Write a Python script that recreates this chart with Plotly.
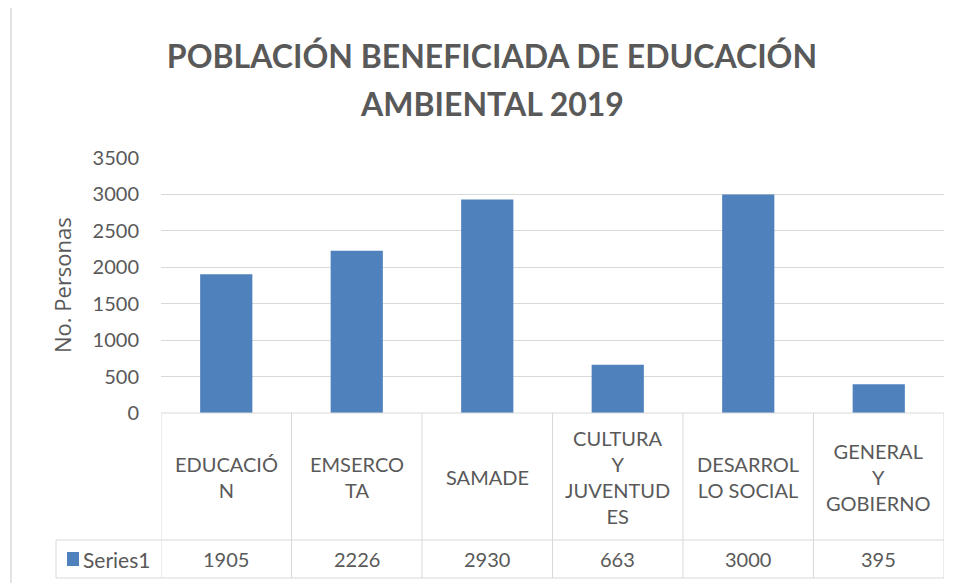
import plotly.graph_objects as go

categories = ["EDUCACIÓN", "EMSERCOTA", "SAMADE", "CULTURA Y JUVENTUDES", "DESARROLLO SOCIAL", "GENERAL Y GOBIERNO"]
category_labels = ["EDUCACIÓ<br>N", "EMSERCO<br>TA", "SAMADE", "CULTURA<br>Y<br>JUVENTUD<br>ES",
                   "DESARROL<br>LO SOCIAL", "GENERAL<br>Y<br>GOBIERNO"]
values = [1905, 2226, 2930, 663, 3000, 395]
series_name = "Series1"
y_ticks = [0, 500, 1000, 1500, 2000, 2500, 3000, 3500]
title_lines = ["POBLACIÓN BENEFICIADA DE EDUCACIÓN", "AMBIENTAL 2019"]
y_title = "No. Personas"

W, H = 957, 583
L, R, T, B = 161, 13, 158, 170
plot_h = H - T - B
plot_w = W - L - R

def py(pix):  # pixel y -> paper y
    return (H - B - pix) / plot_h

def px(pix):  # pixel x -> paper x
    return (pix - L) / plot_w

GRID = "#d9d9d9"
TXT = "#595959"
BLUE = "#4f81bd"
FS = 20

fig = go.Figure()
fig.add_trace(go.Bar(x=list(range(len(values))), y=values, marker=dict(color=BLUE, line=dict(width=0)),
                     name=series_name, showlegend=False, width=0.4))

shapes = []
n = len(categories)
shapes.append(dict(type="line", xref="x", yref="paper", x0=-0.5, x1=n - 0.5, y0=0, y1=0,
                   line=dict(color=GRID, width=1)))
for yp in (540, 578):
    shapes.append(dict(type="line", xref="paper", yref="paper", x0=px(56), x1=1, y0=py(yp), y1=py(yp),
                       line=dict(color=GRID, width=1)))
for k in range(n + 1):
    shapes.append(dict(type="line", xref="x", yref="paper", x0=k - 0.5, x1=k - 0.5, y0=0, y1=py(578),
                       line=dict(color=GRID, width=1)))
shapes.append(dict(type="line", xref="paper", yref="paper", x0=px(56), x1=px(56), y0=py(540), y1=py(578),
                   line=dict(color=GRID, width=1)))
shapes.append(dict(type="line", xref="paper", yref="paper", x0=px(11), x1=px(11), y0=py(8), y1=py(590),
                   line=dict(color=GRID, width=1.5)))
shapes.append(dict(type="rect", xref="paper", yref="paper", x0=px(67), x1=px(79), y0=py(552), y1=py(566),
                   fillcolor=BLUE, line=dict(width=0)))

annotations = []
for i, lab in enumerate(category_labels):
    annotations.append(dict(x=i, y=py(477), xref="x", yref="paper", text=lab, showarrow=False,
                            font=dict(family="Lato", size=FS, color=TXT), align="center",
                            xanchor="center", yanchor="middle"))
for i, v in enumerate(values):
    annotations.append(dict(x=i, y=py(559), xref="x", yref="paper", text=str(v), showarrow=False,
                            font=dict(family="Lato", size=FS, color=TXT), xanchor="center", yanchor="middle"))
annotations.append(dict(x=px(81), y=py(559), xref="paper", yref="paper", text=series_name, showarrow=False,
                        font=dict(family="Lato", size=21, color=TXT), xanchor="left", yanchor="middle"))
annotations.append(dict(x=px(62), y=py(285), xref="paper", yref="paper", text=y_title, showarrow=False,
                        textangle=-90, font=dict(family="Open Sans", size=22, color=TXT),
                        xanchor="center", yanchor="middle"))
annotations.append(dict(x=px(492), y=py(103), xref="paper", yref="paper", text="<b>" + title_lines[1] + "</b>",
                        showarrow=False, font=dict(family="Lato", size=32, color=TXT),
                        xanchor="center", yanchor="middle"))

fig.update_layout(
    width=W, height=H,
    margin=dict(l=L, r=R, t=T, b=B),
    paper_bgcolor="white", plot_bgcolor="white",
    title=dict(text="<b>" + title_lines[0] + "</b>",
               x=492 / W, xref="container", xanchor="center", y=1 - 57 / H, yref="container", yanchor="middle",
               font=dict(family="Lato", size=32, color=TXT)),
    xaxis=dict(range=[-0.5, n - 0.5], showticklabels=False, showgrid=False, zeroline=False, showline=False,
               ticks=""),
    yaxis=dict(range=[0, 3500], tickvals=y_ticks, showgrid=True, gridcolor=GRID, gridwidth=1,
               zeroline=False, showline=False, ticks="", ticklabelstandoff=21,
               tickfont=dict(family="Lato", size=FS, color=TXT)),
    shapes=shapes, annotations=annotations, bargap=0.6,
)

fig.write_html("out.html")
